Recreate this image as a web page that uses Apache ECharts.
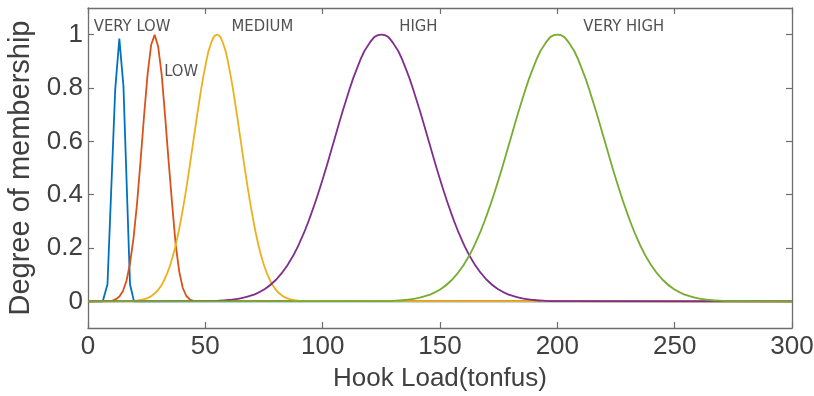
<!DOCTYPE html>
<html>
<head>
<meta charset="utf-8">
<script src="https://cdn.jsdelivr.net/npm/echarts@6/dist/echarts.min.js"></script>
<style>html,body{margin:0;padding:0;background:#fff}#c{width:814px;height:396px}</style>
</head>
<body>
<div id="c"></div>
<script>
// ---- data ----
const xTicks = [0, 50, 100, 150, 200, 250, 300];
const yTicks = [0, 0.2, 0.4, 0.6, 0.8, 1];

const veryLowX = [0, 6.3, 8.3, 11.6, 13.35, 15.1, 17.9, 19.6, 300];
const veryLowY = [0, 0, 0.064, 0.795, 0.985, 0.808, 0.064, 0, 0];

const lowX = [0, 10.4, 11.9, 13.4, 14.9, 16.4, 17.9, 19.4, 20.9, 22.4, 23.9, 25.4, 26.9, 28.4, 29.9, 31.4, 32.9, 34.4, 35.9, 37.4, 38.9, 40.4, 41.9, 43.4, 44.9, 300];
const lowY = [0, 0.003, 0.008, 0.018, 0.039, 0.077, 0.141, 0.237, 0.367, 0.527, 0.697, 0.852, 0.961, 1, 0.955, 0.85, 0.69, 0.52, 0.36, 0.21, 0.11, 0.05, 0.02, 0.007, 0.002, 0];

const mediumX = [0, 17.5, 20, 22.5, 25, 27.5, 30, 32.5, 35, 37.5, 40, 42.5, 45, 47.5, 50, 52.5, 55, 57.5, 60, 62.5, 65, 67.5, 70, 72.5, 75, 77.5, 80, 82.5, 85, 87.5, 90, 92.5, 300];
const mediumY = [0, 0.001, 0.002, 0.005, 0.011, 0.023, 0.044, 0.080, 0.135, 0.216, 0.325, 0.458, 0.607, 0.755, 0.882, 0.969, 1, 0.969, 0.882, 0.755, 0.607, 0.458, 0.325, 0.216, 0.135, 0.080, 0.044, 0.023, 0.011, 0.005, 0.002, 0.001, 0];

const highX = [0, 50, 55, 60, 65, 70, 75, 80, 85, 90, 95, 100, 105, 110, 115, 120, 125, 130, 135, 140, 145, 150, 155, 160, 165, 170, 175, 180, 185, 190, 195, 200, 300];
const highY = [0, 0.001, 0.002, 0.005, 0.011, 0.023, 0.044, 0.080, 0.135, 0.216, 0.325, 0.458, 0.607, 0.755, 0.882, 0.969, 1, 0.969, 0.882, 0.755, 0.607, 0.458, 0.325, 0.216, 0.135, 0.080, 0.044, 0.023, 0.011, 0.005, 0.002, 0.001, 0];

const veryHighX = [0, 125, 130, 135, 140, 145, 150, 155, 160, 165, 170, 175, 180, 185, 190, 195, 200, 205, 210, 215, 220, 225, 230, 235, 240, 245, 250, 255, 260, 265, 270, 275, 300];
const veryHighY = [0, 0.001, 0.002, 0.005, 0.011, 0.023, 0.044, 0.080, 0.135, 0.216, 0.325, 0.458, 0.607, 0.755, 0.882, 0.969, 1, 0.969, 0.882, 0.755, 0.607, 0.458, 0.325, 0.216, 0.135, 0.080, 0.044, 0.023, 0.011, 0.005, 0.002, 0.001, 0];

const labelNames = ['VERY LOW', 'LOW', 'MEDIUM', 'HIGH', 'VERY HIGH'];
const labelX = [18.8, 39.7, 74.3, 140.8, 228.3];
const labelY = [1.03, 0.862, 1.03, 1.03, 1.03];

const xName = 'Hook Load(tonfus)';
const yName = 'Degree of membership';

// ---- chart ----
const FONT = "'Liberation Sans', sans-serif";
const LABEL_FONT = "'DejaVu Sans Condensed', 'Liberation Sans Narrow', 'Liberation Sans', sans-serif";
const AX = '#6e6e6e';
const TXT = '#404040';
const zip = (xs, ys) => xs.map((x, i) => [x, ys[i]]);

const curves = [
  {x: veryLowX, y: veryLowY, color: '#0072BD', smooth: false},
  {x: lowX, y: lowY, color: '#D95319', smooth: false},
  {x: mediumX, y: mediumY, color: '#EDB120', smooth: 0.5},
  {x: highX, y: highY, color: '#7E2F8E', smooth: 0.5},
  {x: veryHighX, y: veryHighY, color: '#77AC30', smooth: 0.5}
];

const series = curves.map(c => ({
  type: 'line',
  data: zip(c.x, c.y),
  showSymbol: false,
  symbol: 'none',
  smooth: c.smooth,
  lineStyle: {color: c.color, width: 1.8},
  xAxisIndex: 0, yAxisIndex: 0,
  silent: true
}));

series.push({
  type: 'scatter',
  xAxisIndex: 0, yAxisIndex: 0,
  symbolSize: 0,
  data: labelNames.map((n, i) => ({name: n, value: [labelX[i], labelY[i]]})),
  label: {
    show: true, position: 'inside', formatter: '{b}',
    fontFamily: LABEL_FONT, fontSize: 16.5, color: '#262626'
  },
  silent: true
});

const chart = echarts.init(document.getElementById('c'), null, {renderer: 'canvas'});
chart.setOption({
  animation: false,
  backgroundColor: '#fff',
  grid: {left: 88, right: 22, top: 8, bottom: 68, containLabel: false, outerBoundsMode: 'none'},
  xAxis: [
    {
      type: 'value', position: 'bottom', min: 0, max: 300, interval: 50,
      name: xName, nameLocation: 'middle', nameGap: 38,
      nameTextStyle: {fontFamily: FONT, fontSize: 26, color: TXT},
      axisLine: {show: true, onZero: false, lineStyle: {color: AX, width: 1.3}},
      axisTick: {show: true, inside: true, length: 6, lineStyle: {color: AX, width: 1.2}},
      axisLabel: {fontFamily: FONT, fontSize: 26, color: TXT, margin: 6},
      splitLine: {show: false}
    },
    {
      type: 'value', position: 'top', min: 0, max: 300, interval: 50,
      axisLine: {show: true, onZero: false, lineStyle: {color: AX, width: 1.3}},
      axisTick: {show: true, inside: true, length: 6, lineStyle: {color: AX, width: 1.2}},
      axisLabel: {show: false},
      splitLine: {show: false}
    }
  ],
  yAxis: [
    {
      type: 'value', position: 'left', min: -0.1, max: 1.1,
      name: yName, nameLocation: 'middle', nameGap: 52,
      nameTextStyle: {fontFamily: FONT, fontSize: 29, color: TXT},
      axisLine: {show: true, onZero: false, lineStyle: {color: AX, width: 1.3}},
      axisTick: {show: true, inside: true, length: 6, customValues: yTicks, lineStyle: {color: AX, width: 1.2}},
      axisLabel: {fontFamily: FONT, fontSize: 26, color: TXT, margin: 5, customValues: yTicks,
                  formatter: v => String(+v.toFixed(1))},
      splitLine: {show: false}
    },
    {
      type: 'value', position: 'right', min: -0.1, max: 1.1,
      axisLine: {show: true, onZero: false, lineStyle: {color: AX, width: 1.3}},
      axisTick: {show: true, inside: true, length: 6, customValues: yTicks, lineStyle: {color: AX, width: 1.2}},
      axisLabel: {show: false},
      splitLine: {show: false}
    }
  ],
  series: series
});
</script>
</body>
</html>
